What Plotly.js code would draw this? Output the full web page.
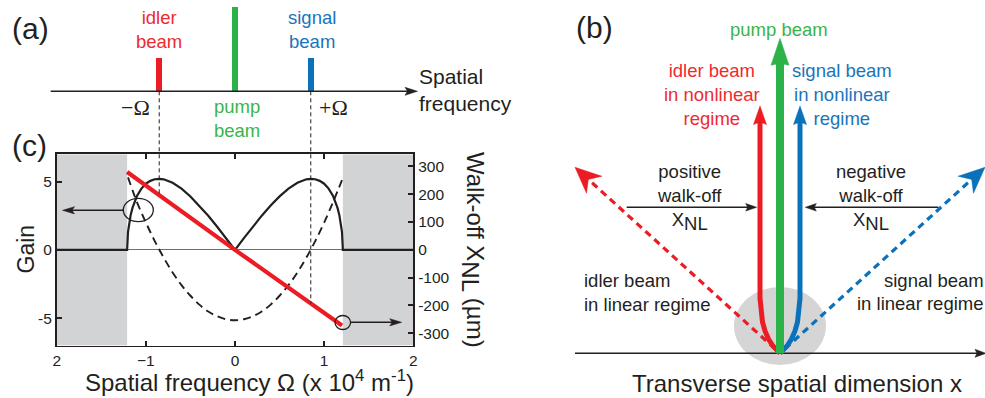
<!DOCTYPE html>
<html>
<head>
<meta charset="utf-8">
<script src="https://cdn.plot.ly/plotly-3.0.1.min.js"></script>
<style>html,body{margin:0;padding:0;background:#fff;}#chart{width:985px;height:398px;}</style>
</head>
<body>
<div id="chart"></div>
<script>
// ---------------- data ----------------
// panel (c): gain curve
const omegaGain = [-2, -1.21, -1.2, -1.19, -1.17, -1.15, -1.1, -1.05, -1, -0.95, -0.9, -0.85, -0.8, -0.7, -0.6, -0.5, -0.4, -0.3, -0.2, -0.1, 0,
                   0.1, 0.2, 0.3, 0.4, 0.5, 0.6, 0.7, 0.8, 0.85, 0.9, 0.95, 1, 1.05, 1.1, 1.15, 1.17, 1.19, 1.2, 1.21, 2];
const gainVals = [0, 0, 1.32, 1.85, 2.56, 3.07, 3.94, 4.48, 4.84, 5.05, 5.17, 5.2, 5.16, 4.91, 4.48, 3.91, 3.24, 2.5, 1.69, 0.86, 0,
                  0.86, 1.69, 2.5, 3.24, 3.91, 4.48, 4.91, 5.16, 5.2, 5.17, 5.05, 4.84, 4.48, 3.94, 3.07, 2.56, 1.85, 1.32, 0, 0];
// panel (c): dashed curve
const omegaDash = [-1.2, -1.1, -1.0, -0.9, -0.8, -0.7, -0.6, -0.5, -0.4, -0.3, -0.2, -0.1, 0, 0.1, 0.2, 0.3, 0.4, 0.5, 0.6, 0.7, 0.8, 0.9, 1.0, 1.1, 1.2];
const dashVals = [5.3, 3.5, 2.0, 0.64, -0.57, -1.65, -2.58, -3.36, -4.01, -4.51, -4.86, -5.08, -5.15, -5.08, -4.86, -4.51, -4.01, -3.36, -2.58, -1.65, -0.57, 0.64, 2.0, 3.5, 5.1];
// panel (c): walk-off (right axis, µm)
const omegaWalk = [-1.21, 0, 1.2];
const walkOffVals = [280, 0, -272];
const gainCutoff = 1.21;
// ticks
const freqTicks = [-2, -1, 0, 1, 2];
const freqTickText = ['2', '\u22121', '0', '1', '2'];
const gainTicks = [-5, 0, 5];
const gainTickText = ['-5', '0', '5'];
const walkTicks = [-300, -200, -100, 0, 100, 200, 300];
const walkTickText = ['-300', '-200', '-100', '0', '100', '200', '300'];
// panel (a): beams in spatial-frequency space
const beamNames = ['idler', 'pump', 'signal'];
const beamOmega = [-0.85, 0, 0.85];
const beamAmp = [0.4, 1, 0.4];
// panel (b): schematic beam paths (transverse x, propagation z)
const nlCurveX = [0, -3, -7, -11.5, -15, -17.5, -19, -20, -20];
const nlCurveZ = [0, 2.8, 7.3, 14.3, 22.3, 31.3, 41.3, 55, 231];
const nlTipZ = 247.3;
const pumpTipZ = 315;
const linStart = [-5, 4.5];
const linTip = [-205, 186];
const walkArrowZ = 146;
const walkArrowFrom = 153.3;
const walkArrowTo = 23.3;

// ---------------- geometry / styles ----------------
const W = 985, H = 398;
const SANS = 'Liberation Sans, Arial, Helvetica, sans-serif';
const SERIF = 'Liberation Serif, Times New Roman, serif';
const INK = '#231f20';
const RED = '#ec1c24', GREEN = '#2bb34a', BLUE = '#0a72ba';
const RED_T = '#ee2a2f', GREEN_T = '#3ab54a', BLUE_T = '#1a74bb';
const GRAY = '#d1d3d4';

// panel c plot box in px
const C = {L: 56.7, R: 413.3, T: 154.2, B: 345.5, xr: [-2, 2], yr: [-7, 7], y2r: [-344, 344]};
const cx2px = v => C.L + (v - C.xr[0]) / (C.xr[1] - C.xr[0]) * (C.R - C.L);
const cy2px = v => C.T + (C.yr[1] - v) / (C.yr[1] - C.yr[0]) * (C.B - C.T);
const cpx2x = p => C.xr[0] + (p - C.L) / (C.R - C.L) * (C.xr[1] - C.xr[0]);
const cpx2y = p => C.yr[1] - (p - C.T) / (C.B - C.T) * (C.yr[1] - C.yr[0]);
const cy2toPx = v => C.T + (C.y2r[1] - v) / (C.y2r[1] - C.y2r[0]) * (C.B - C.T);

// panel a: y3 in px
const A = {T: 0, B: 140, base: 91.3, unit: 84.5};
const apx2x = p => cpx2x(p);
const apx2y = p => (A.base - p) / A.unit;

function headPts(tip, tail, L, w, n) {
  const dx = tip[0] - tail[0], dy = tip[1] - tail[1];
  const d = Math.hypot(dx, dy), ux = dx / d, uy = dy / d;
  const nx = -uy, ny = ux;
  const bx = tip[0] - ux * L, by = tip[1] - uy * L;
  const pts = [tip, [bx + nx * w, by + ny * w], [tip[0] - ux * n, tip[1] - uy * n], [bx - nx * w, by - ny * w], tip];
  return {pts, neck: [tip[0] - ux * (n - 0.5), tip[1] - uy * (n - 0.5)]};
}
function polyTrace(pts, color, xa, ya) {
  return {x: pts.map(p => p[0]), y: pts.map(p => p[1]), xaxis: xa, yaxis: ya, mode: 'lines', fill: 'toself',
          fillcolor: color, line: {color: color, width: 0.5}, hoverinfo: 'skip', showlegend: false};
}
function lineTrace(xs, ys, color, width, xa, ya, dash) {
  return {x: xs, y: ys, xaxis: xa, yaxis: ya, mode: 'lines', line: {color: color, width: width, dash: dash || 'solid'},
          hoverinfo: 'skip', showlegend: false};
}
function interp(xs, ys, x) {
  for (let i = 0; i < xs.length - 1; i++) {
    if (x >= xs[i] && x <= xs[i + 1]) return ys[i] + (ys[i + 1] - ys[i]) * (x - xs[i]) / (xs[i + 1] - xs[i]);
  }
  return ys[ys.length - 1];
}

const traces = [];

// ---- panel (c)
traces.push(lineTrace(omegaGain, gainVals, INK, 2.2, 'x', 'y'));
traces.push({x: omegaDash, y: dashVals, xaxis: 'x', yaxis: 'y', mode: 'lines', hoverinfo: 'skip', showlegend: false,
             line: {color: INK, width: 1.9, dash: '8px,5px', shape: 'spline'}});
traces.push(lineTrace(omegaWalk, walkOffVals, RED, 4.2, 'x', 'y2'));

// circle-arrow markers (px geometry converted to data)
function cArrow(fromPx, tipPx) {
  const h = headPts(tipPx, fromPx, 12, 3.6, 9.5);
  traces.push(lineTrace([cpx2x(fromPx[0]), cpx2x(h.neck[0])], [cpx2y(fromPx[1]), cpx2y(h.neck[1])], INK, 1.4, 'x', 'y'));
  traces.push(polyTrace(h.pts.map(p => [cpx2x(p[0]), cpx2y(p[1])]), INK, 'x', 'y'));
}
cArrow([123.5, 210.3], [62.5, 210.3]);
cArrow([350.6, 322.3], [401.7, 322.3]);

// ---- panel (a)
traces.push({type: 'bar', x: beamOmega, y: beamAmp, width: 0.068, xaxis: 'x2', yaxis: 'y3',
             marker: {color: [RED, GREEN, BLUE], line: {width: 0}}, hoverinfo: 'skip', showlegend: false, name: 'beams'});
(function () {
  const tail = [50.7, A.base], tip = [417.5, A.base];
  const h = headPts(tip, tail, 12.5, 4, 10);
  traces.push(lineTrace([apx2x(tail[0]), apx2x(h.neck[0])], [0, 0], INK, 1.5, 'x2', 'y3'));
  traces.push(polyTrace(h.pts.map(p => [apx2x(p[0]), apx2y(p[1])]), INK, 'x2', 'y3'));
})();

// ---- panel (b)  (units: px, origin at beam source)
function bArrow(tail, tip, L, w, n, color, width, dash) {
  const h = headPts(tip, tail, L, w, n);
  traces.push(lineTrace([tail[0], h.neck[0]], [tail[1], h.neck[1]], color, width, 'x3', 'y4', dash));
  traces.push(polyTrace(h.pts, color, 'x3', 'y4'));
}
bArrow([-205, 0], [206, 0], 11, 4, 9, INK, 1.5);
bArrow(linStart, linTip, 26, 11.5, 18, RED, 3.2, '7px,5px');
bArrow([-linStart[0], linStart[1]], [-linTip[0], linTip[1]], 26, 11.5, 18, BLUE, 3.2, '7px,5px');
function nlBeam(sign, color) {
  const xs = nlCurveX.map(v => v * sign);
  const tip = [xs[xs.length - 1], nlTipZ];
  const h = headPts(tip, [tip[0], 0], 18.5, 6.5, 16);
  traces.push(lineTrace(xs.concat([h.neck[0]]), nlCurveZ.concat([h.neck[1]]), color, 5, 'x3', 'y4'));
  traces.push(polyTrace(h.pts, color, 'x3', 'y4'));
}
nlBeam(1, RED);
nlBeam(-1, BLUE);
bArrow([0, 0], [0, pumpTipZ], 27, 9, 25, GREEN, 8);
bArrow([-walkArrowFrom, walkArrowZ], [-walkArrowTo, walkArrowZ], 11, 3.8, 9, INK, 1.6);
bArrow([walkArrowFrom + 5, walkArrowZ], [walkArrowTo + 2, walkArrowZ], 11, 3.8, 9, INK, 1.6);

// ---------------- shapes ----------------
const shapes = [
  {type: 'rect', xref: 'x', yref: 'y', x0: -2, x1: -gainCutoff, y0: -7, y1: 7, fillcolor: GRAY, line: {width: 0}, layer: 'below'},
  {type: 'rect', xref: 'x', yref: 'y', x0: gainCutoff, x1: 2, y0: -7, y1: 7, fillcolor: GRAY, line: {width: 0}, layer: 'below'},
  {type: 'circle', xref: 'x', yref: 'y', x0: cpx2x(123.3), x1: cpx2x(153.3), y0: cpx2y(221.7), y1: cpx2y(198.3), line: {color: INK, width: 1.3}, fillcolor: 'rgba(0,0,0,0)'},
  {type: 'circle', xref: 'x', yref: 'y', x0: cpx2x(335), x1: cpx2x(350.6), y0: cpx2y(329.5), y1: cpx2y(315.5), line: {color: INK, width: 1.3}, fillcolor: 'rgba(0,0,0,0)'},
  {type: 'circle', xref: 'x3', yref: 'y4', x0: -46, x1: 46, y0: -11.7, y1: 66.3, fillcolor: '#d5d5d6', line: {width: 0}, layer: 'below'}
];
[beamOmega[0], beamOmega[2]].forEach(om => {
  const yEnd = cy2toPx(interp(omegaWalk, walkOffVals, om));
  shapes.push({type: 'line', xref: 'x', yref: 'paper', x0: om, x1: om, y0: 1 - A.base / H, y1: 1 - yEnd / H,
               line: {color: INK, width: 1, dash: '4px,3px'}});
});

// ---------------- text ----------------
function T(text, px, py, o) {
  o = o || {};
  return Object.assign({xref: 'paper', yref: 'paper', x: px / W, y: 1 - py / H, text: text, showarrow: false,
                        xanchor: 'center', yanchor: 'middle', align: 'center', borderpad: 0,
                        font: {family: SANS, size: 18.5, color: INK}}, o);
}
const f = (size, color, family) => ({family: family || SANS, size: size, color: color || INK});
const NL = sz => 'X<sub><span style="font-size:' + sz + 'px">NL</span></sub>';
const annotations = [
  // (a)
  T('(a)', 11, 28.5, {xanchor: 'left', font: f(30)}),
  T('idler<br>beam', 158.9, 29.1, {font: f(18.5, RED_T)}),
  T('signal<br>beam', 311.5, 29.1, {font: f(18.5, BLUE_T)}),
  T('pump<br>beam', 236.7, 118.2, {font: f(18.5, GREEN_T)}),
  T('\u2212\u03A9', 151, 107.5, {xanchor: 'right', font: f(22, INK, SERIF)}),
  T('+\u03A9', 317.8, 107.5, {xanchor: 'left', font: f(22, INK, SERIF)}),
  T('Spatial<br>frequency', 418, 90, {xanchor: 'left', align: 'left', font: f(21)}),
  // (c)
  T('(c)', 11, 146, {xanchor: 'left', font: f(30)}),
  T('Gain', 25.5, 249, {textangle: -90, font: f(23)}),
  T('Walk-off ' + NL(24) + ' (\u00B5m)', 473, 250, {textangle: 90, font: f(24)}),
  T('Spatial frequency \u03A9 (x 10<sup>4</sup> m<sup>-1</sup>)', 249.3, 380.5, {font: f(24)}),
  // (b)
  T('(b)', 575, 27.5, {xanchor: 'left', font: f(30)}),
  T('pump beam', 779, 30, {font: f(18.5, GREEN_T)}),
  T('idler beam<br>in nonlinear<br>regime', 711.5, 95, {font: f(18.5, RED_T)}),
  T('signal beam<br>in nonlinear<br>regime', 842, 95, {font: f(18.5, BLUE_T)}),
  T('positive<br>walk-off<br>' + NL(18.5), 689.3, 197, {font: f(18.5)}),
  T('negative<br>walk-off<br>' + NL(18.5), 870.7, 197, {font: f(18.5)}),
  T('idler beam<br>in linear regime', 582.7, 292, {xanchor: 'left', align: 'left', font: f(18.5)}),
  T('signal beam', 883.3, 280.6, {xanchor: 'left', font: f(18.5)}),
  T('in linear regime', 856, 303.3, {xanchor: 'left', font: f(18.5)}),
  T('Transverse spatial dimension x', 796.7, 383.1, {font: f(24)})
];

// ---------------- layout ----------------
const axBase = {showgrid: false, zeroline: false, fixedrange: true};
const tickStyle = {ticks: 'inside', ticklen: 5, tickwidth: 2, tickcolor: INK, showline: true, linecolor: INK, linewidth: 1.8,
                   tickfont: {family: SANS, size: 15.5, color: INK}};
const layout = {
  width: W, height: H, margin: {l: 0, r: 0, t: 0, b: 0, pad: 0},
  paper_bgcolor: '#ffffff', plot_bgcolor: 'rgba(0,0,0,0)', showlegend: false, bargap: 0,
  xaxis: Object.assign({}, axBase, tickStyle, {domain: [C.L / W, C.R / W], range: C.xr, anchor: 'y',
          tickmode: 'array', tickvals: freqTicks, ticktext: freqTickText, mirror: 'ticks'}),
  yaxis: Object.assign({}, axBase, tickStyle, {domain: [1 - C.B / H, 1 - C.T / H], range: C.yr, anchor: 'x',
          tickmode: 'array', tickvals: gainTicks, ticktext: gainTickText, zeroline: true, zerolinecolor: '#6d6e71', zerolinewidth: 1.2}),
  yaxis2: Object.assign({}, axBase, tickStyle, {overlaying: 'y', side: 'right', anchor: 'x', range: C.y2r,
          tickmode: 'array', tickvals: walkTicks, ticktext: walkTickText}),
  xaxis2: Object.assign({}, axBase, {domain: [50 / W, 420 / W], range: [cpx2x(50), cpx2x(420)], anchor: 'y3', visible: false}),
  yaxis3: Object.assign({}, axBase, {domain: [1 - A.B / H, 1 - A.T / H], range: [apx2y(A.B), apx2y(A.T)], anchor: 'x2', visible: false}),
  xaxis3: Object.assign({}, axBase, {domain: [560 / W, 1], range: [-220, 205], anchor: 'y4', visible: false}),
  yaxis4: Object.assign({}, axBase, {domain: [0, 1], range: [-44.7, 353.3], anchor: 'x3', visible: false}),
  shapes: shapes,
  annotations: annotations
};

Plotly.newPlot('chart', traces, layout, {displayModeBar: false, staticPlot: true});
</script>
</body>
</html>
